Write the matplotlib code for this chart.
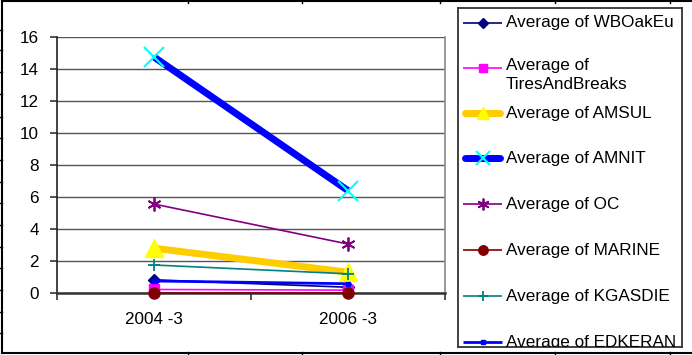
import matplotlib
matplotlib.use("Agg")
import matplotlib.pyplot as plt
from matplotlib.lines import Line2D

plt.rcParams['font.family'] = ['Liberation Sans', 'DejaVu Sans']

periods = ["2004 -3", "2006 -3"]

wboakeu = [0.82, 0.36]
tires_and_breaks = [0.22, 0.18]
amsul = [2.8, 1.3]
amnit = [14.75, 6.4]
oc = [5.56, 3.06]
marine = [0.03, 0.03]
kgasdie = [1.75, 1.2]
edkeran = [0.75, 0.58]

y_ticks = [0, 2, 4, 6, 8, 10, 12, 14, 16]

series = [
    ("Average of WBOakEu", wboakeu, dict(color="#000080", lw=1.2, marker="D", ms=6,
                                         mfc="#000080", mec="#000080")),
    ("Average of\nTiresAndBreaks", tires_and_breaks, dict(color="#FF00FF", lw=1.2, marker="s", ms=7,
                                                           mfc="#FF00FF", mec="#FF00FF")),
    ("Average of AMSUL", amsul, dict(color="#FFCC00", lw=5, marker="^", ms=13,
                                     mfc="#FFFF00", mec="#FFFF00")),
    ("Average of AMNIT", amnit, dict(color="#0000FF", lw=5, marker="x", ms=15, mew=1.5,
                                     mfc="#00FFFF", mec="#00FFFF")),
    ("Average of OC", oc, dict(color="#800080", lw=1.2, marker=(6, 2, 0), ms=10, mew=1.3,
                               mfc="#800080", mec="#800080")),
    ("Average of MARINE", marine, dict(color="#800000", lw=1.2, marker="o", ms=8,
                                       mfc="#800000", mec="#800000")),
    ("Average of KGASDIE", kgasdie, dict(color="#008080", lw=1.2, marker="+", ms=9, mew=1.3,
                                         mfc="#008080", mec="#008080")),
    ("Average of EDKERAN", edkeran, dict(color="#0000FF", lw=2, marker="s", ms=3.5,
                                         mfc="#0000FF", mec="#0000FF")),
]

W, H = 692, 355
fig = plt.figure(figsize=(W / 100, H / 100), dpi=100)
fig.patch.set_facecolor("white")

FS = 12.3


def fx(px):
    return px / W


def fy(py):
    return 1 - py / H


# plot area
left, right, top, bottom = 57, 445, 37, 293
ax = fig.add_axes([fx(left), fy(bottom), fx(right - left), (bottom - top) / H])
xs = [0, 1]
for label, vals, style in series:
    ax.plot(xs, vals, solid_capstyle="butt", zorder=3, clip_on=False, **style)

ax.set_xlim(-0.5, 1.5)
ax.set_ylim(0, 16)
ax.set_yticks(y_ticks)
ax.set_yticklabels([str(v) for v in y_ticks], fontsize=FS)
ax.set_xticks(xs)
ax.set_xticklabels(periods, fontsize=FS)
ax.set_xticks([-0.5, 0.5, 1.5], minor=True)
ax.tick_params(axis="x", which="major", length=0, pad=14)
ax.tick_params(axis="x", which="minor", length=5, width=1.2, color="#333333")
ax.tick_params(axis="y", length=5, width=1.2, color="#333333", pad=8)
ax.grid(axis="y", color="#555555", lw=1.0, zorder=0)
ax.spines["top"].set_visible(False)
ax.spines["right"].set_color("#888888")
ax.spines["right"].set_linewidth(1.2)
ax.spines["left"].set_color("#222222")
ax.spines["left"].set_linewidth(1.2)
ax.spines["bottom"].set_color("#333333")
ax.spines["bottom"].set_linewidth(1.8)

# legend panel, drawn in pixel coordinates so the last entry is clipped by the frame
lx0, lx1, ly0, ly1 = 458, 682, 8, 347
lax = fig.add_axes([fx(lx0), fy(ly1), fx(lx1 - lx0), (ly1 - ly0) / H])
lax.set_xlim(lx0, lx1)
lax.set_ylim(ly1, ly0)
lax.set_xticks([])
lax.set_yticks([])
for s in lax.spines.values():
    s.set_color("#333333")
    s.set_linewidth(1.3)

entry_y = [22.7, 68, 113, 158, 204, 250, 296, 342]
for (label, vals, style), yy in zip(series, entry_y):
    st = dict(style)
    lw = st.pop("lw")
    marker = st.pop("marker")
    ms = st.pop("ms")
    mew = st.pop("mew", 1.0)
    thick = lw > 3
    lax.add_line(Line2D([465, 500] if thick else [463, 502], [yy, yy], color=st["color"],
                        lw=lw, solid_capstyle="round" if thick else "butt"))
    lax.add_line(Line2D([482.5], [yy], marker=marker, ms=ms * (0.7 if thick else 0.85),
                        mew=mew, mfc=st["mfc"], mec=st["mec"], lw=0))
    if "\n" in label:
        lax.text(506, yy - 10, label, fontsize=FS, va="top", ha="left", clip_on=True,
                 linespacing=1.35)
    else:
        lax.text(506, yy, label, fontsize=FS, va="center", ha="left", clip_on=True)

# surrounding frame and cell grid marks of the sheet
fig.add_artist(Line2D([fx(2), fx(2)], [fy(1), fy(353)], color="black", lw=1.5))
fig.add_artist(Line2D([fx(2), fx(692)], [fy(1), fy(1)], color="black", lw=1.5))
fig.add_artist(Line2D([fx(2), fx(692)], [fy(353), fy(353)], color="black", lw=1.5))
for gx in [188, 302, 440, 555, 670]:
    fig.add_artist(Line2D([fx(gx), fx(gx)], [fy(0), fy(3)], color="black", lw=1))
    fig.add_artist(Line2D([fx(gx), fx(gx)], [fy(352), fy(355)], color="black", lw=1))
for gy in [30, 50, 72, 94, 117, 138, 160, 182, 203, 225, 247, 268, 290, 312, 333]:
    fig.add_artist(Line2D([fx(0), fx(2)], [fy(gy), fy(gy)], color="black", lw=1))

fig.savefig("out.png", dpi=100)
